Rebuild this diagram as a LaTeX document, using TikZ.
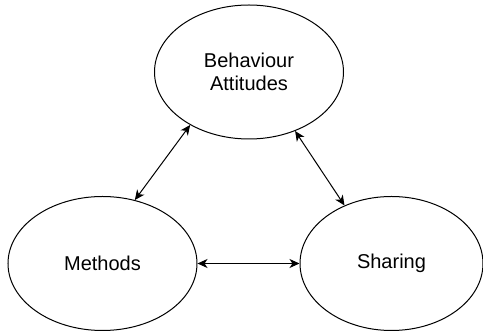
\documentclass[tikz,border=0pt]{standalone}
\usepackage{fontspec}
\setmainfont{Liberation Sans}
\usetikzlibrary{shapes.geometric,arrows.meta}

\begin{document}
\begin{tikzpicture}[x=1pt,y=1pt,<->,>={Stealth[length=10pt,width=9pt,inset=3pt]},line width=1pt,
    topic/.style={ellipse,draw,inner sep=0pt,minimum width=189pt,minimum height=134pt,align=center,font=\fontsize{20}{23}\selectfont}]

                    \useasboundingbox (0,0) rectangle (483,334);

                    \node[topic] (behaviour) at (249,262) {Behaviour\\Attitudes};
                    \node[topic] (methods) at (102.5,70.5) {Methods};
                    \node[topic, minimum width=183pt] (sharing) at (391.5,70.5) {Sharing};

                    \draw (behaviour.222) to (methods.63);
                    \draw (behaviour.308) to (sharing.129);
                    \draw (methods) to (sharing);

                \end{tikzpicture}
\end{document}
